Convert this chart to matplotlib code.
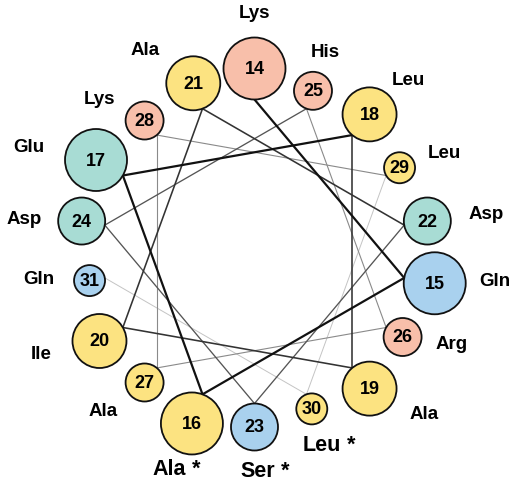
import matplotlib
matplotlib.use('Agg')
import matplotlib.pyplot as plt
from matplotlib.patches import Circle
import numpy as np

# ---------------- data ----------------
positions = list(range(14, 32))
residues = ['Lys', 'Gln', 'Ala', 'Glu', 'Leu', 'Ala', 'Ile', 'Ala', 'Asp',
            'Ser', 'Asp', 'His', 'Arg', 'Ala', 'Lys', 'Leu', 'Leu', 'Gln']
starred = [16, 23, 30]
residue_class = {'Lys': 'basic', 'His': 'basic', 'Arg': 'basic',
                 'Glu': 'acidic', 'Asp': 'acidic',
                 'Gln': 'polar', 'Ser': 'polar',
                 'Ala': 'hydrophobic', 'Leu': 'hydrophobic', 'Ile': 'hydrophobic'}

# ---------------- style / layout ----------------
class_color = {'basic': '#F8BFAA', 'acidic': '#A8DCD4',
               'polar': '#A9D1EE', 'hydrophobic': '#FCE381'}
W, H = 512, 483
CX, CY = 254.5, 251.5
R_IN = 152.0
STEP = 100.0
turn_radius = [31, 27, 23.5, 19, 15.5]
turn_line_color = ['#111111', '#333333', '#555555', '#8a8a8a', '#c4c4c4']
turn_line_width = [1.6, 1.15, 0.95, 0.8, 0.7]
# label offsets from the residue circle centre (dx right, dy up), pixels
label_dx = [0, 60, -23, -67, 39, 55, -58, -48, 59, 3, -58, 12, 49.5, -41.5, -45, 44.5, 10, -50.5]
label_dy = [54.5, 1.5, -46, 12, 33.5, -25.5, -13.5, 33, 7, -44.5, 2, 38.5, -8, -29.5, 21, 14.5, -36.5, 1]
FONT = ['Liberation Sans', 'DejaVu Sans']

fig = plt.figure(figsize=(W / 100, H / 100), dpi=100)
ax = fig.add_axes([0, 0, 1, 1])
ax.set_xlim(0, W)
ax.set_ylim(H, 0)
ax.axis('off')

n = len(positions)
turns = [int(np.floor(i / 3.6)) for i in range(n)]
theta = [np.deg2rad(90 - STEP * i) for i in range(n)]
radii = [turn_radius[t] for t in turns]
inner = [(CX + R_IN * np.cos(a), CY - R_IN * np.sin(a)) for a in theta]
centers = [(CX + (R_IN + r) * np.cos(a), CY - (R_IN + r) * np.sin(a))
           for a, r in zip(theta, radii)]

# connecting lines (drawn later residues first so earlier lie on top)
for i in range(n - 2, -1, -1):
    t = turns[i]
    ax.plot([inner[i][0], inner[i + 1][0]], [inner[i][1], inner[i + 1][1]],
            color=turn_line_color[t], lw=turn_line_width[t], zorder=1 + (5 - t) * 0.1,
            solid_capstyle='round')

for i in range(n):
    x, y = centers[i]
    res = residues[i]
    ax.add_patch(Circle((x, y), radii[i], facecolor=class_color[residue_class[res]],
                        edgecolor='#111111', lw=1.3, zorder=3))
    ax.text(x, y + 1, str(positions[i]), ha='center', va='center', fontsize=13,
            fontweight='bold', family=FONT, zorder=4)
    lx, ly = x + label_dx[i], y - label_dy[i]
    big = positions[i] in starred
    fs = 15.5 if big else 13.5
    t = ax.text(lx, ly, res, ha='center', va='center', fontsize=fs,
                fontweight='bold', family=FONT, zorder=4)
    if big:
        ax.annotate(' *', xy=(1, 0), xycoords=t, ha='left', va='bottom',
                    fontsize=fs, fontweight='bold', family=FONT, zorder=4)

fig.savefig('out.png', dpi=100)
